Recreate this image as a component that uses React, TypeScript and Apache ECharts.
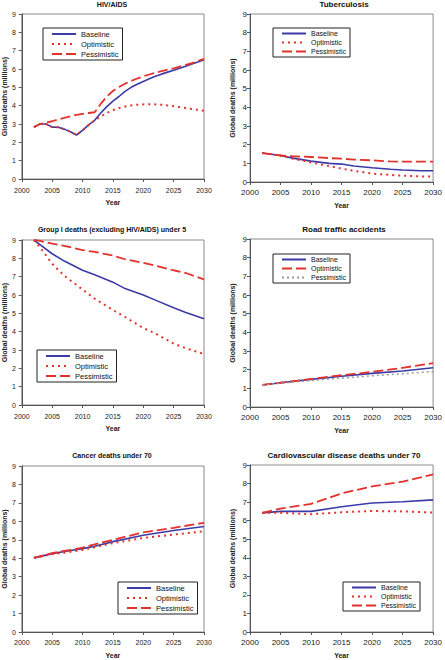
import React, { useEffect, useRef } from "react";
import * as echarts from "echarts";

// ---------- DATA ----------
const hivYears = [2002, 2003, 2004, 2005, 2006, 2007, 2008, 2009, 2010, 2011, 2012, 2013, 2014, 2015, 2016, 2017, 2018, 2019, 2020, 2021, 2022, 2023, 2024, 2025, 2026, 2027, 2028, 2029, 2030];
const hivBaseline = [2.83, 3.0, 3.0, 2.83, 2.82, 2.72, 2.58, 2.4, 2.65, 2.95, 3.2, 3.6, 3.95, 4.25, 4.5, 4.78, 5.0, 5.17, 5.32, 5.47, 5.6, 5.72, 5.83, 5.93, 6.04, 6.15, 6.27, 6.38, 6.5];
const hivOptimistic = [2.83, 3.0, 3.0, 2.83, 2.82, 2.72, 2.58, 2.4, 2.65, 2.95, 3.2, 3.42, 3.6, 3.75, 3.87, 3.95, 4.01, 4.05, 4.07, 4.08, 4.07, 4.05, 4.01, 3.97, 3.92, 3.87, 3.82, 3.77, 3.72];
const hivPessimistic = [2.83, 3.0, 3.08, 3.15, 3.25, 3.33, 3.42, 3.5, 3.55, 3.6, 3.64, 4.1, 4.5, 4.8, 5.02, 5.2, 5.35, 5.48, 5.6, 5.7, 5.8, 5.88, 5.96, 6.04, 6.13, 6.22, 6.32, 6.43, 6.55];

const tbYears = [2002, 2005, 2007, 2010, 2013, 2015, 2017, 2020, 2023, 2025, 2028, 2030];
const tbBaseline = [1.55, 1.42, 1.28, 1.12, 1.0, 0.96, 0.86, 0.76, 0.68, 0.64, 0.6, 0.6];
const tbOptimistic = [1.55, 1.42, 1.25, 1.05, 0.85, 0.72, 0.6, 0.45, 0.38, 0.34, 0.3, 0.3];
const tbPessimistic = [1.55, 1.42, 1.38, 1.34, 1.28, 1.25, 1.2, 1.16, 1.1, 1.09, 1.09, 1.09];

const g1Years = [2002, 2003, 2005, 2007, 2010, 2012, 2015, 2017, 2020, 2022, 2025, 2027, 2030];
const g1Baseline = [9.0, 8.75, 8.25, 7.85, 7.35, 7.1, 6.7, 6.35, 6.0, 5.72, 5.3, 5.05, 4.7];
const g1Optimistic = [9.0, 8.6, 7.7, 7.05, 6.3, 5.8, 5.18, 4.8, 4.2, 3.9, 3.35, 3.1, 2.78];
const g1Pessimistic = [9.0, 8.95, 8.8, 8.68, 8.45, 8.35, 8.15, 7.95, 7.75, 7.6, 7.35, 7.2, 6.85];

const rdYears = [2002, 2005, 2010, 2015, 2020, 2025, 2030];
const rdBaseline = [1.18, 1.3, 1.48, 1.65, 1.8, 1.93, 2.1];
const rdOptimistic = [1.18, 1.3, 1.5, 1.7, 1.88, 2.1, 2.35];
const rdPessimistic = [1.18, 1.27, 1.42, 1.55, 1.67, 1.78, 1.9];

const caYears = [2002, 2005, 2008, 2010, 2012, 2015, 2020, 2025, 2030];
const caBaseline = [4.02, 4.25, 4.42, 4.52, 4.65, 4.9, 5.25, 5.5, 5.72];
const caOptimistic = [4.02, 4.22, 4.35, 4.45, 4.6, 4.82, 5.1, 5.28, 5.46];
const caPessimistic = [4.02, 4.28, 4.45, 4.58, 4.75, 5.0, 5.4, 5.65, 5.92];

const cvYears = [2002, 2005, 2010, 2015, 2020, 2025, 2030];
const cvBaseline = [6.42, 6.5, 6.5, 6.75, 6.95, 7.02, 7.12];
const cvOptimistic = [6.42, 6.42, 6.35, 6.45, 6.52, 6.5, 6.44];
const cvPessimistic = [6.42, 6.65, 6.9, 7.47, 7.85, 8.1, 8.5];

const titles = [
  "HIV/AIDS",
  "Tuberculosis",
  "Group I deaths (excluding HIV/AIDS) under 5",
  "Road traffic accidents",
  "Cancer deaths under 70",
  "Cardiovascular disease deaths under 70",
];
const scenarioNames = ["Baseline", "Optimistic", "Pessimistic"];
const xAxisName = "Year";
const yAxisName = "Global deaths (millions)";

// ---------- LAYOUT / STYLE ----------
const FONT = "'Liberation Sans', Arial, Helvetica, sans-serif";
const BLUE = "#3b3ba8";
const RED = "#e3322b";
const GRAY = "#9a9a9a";

const styleBase = { color: BLUE, width: 1.6, type: "solid" as any };
const styleDot = { color: RED, width: 2, type: [2, 4] as any };
const styleDash = { color: RED, width: 1.8, type: [10, 4] as any };
const styleGrayDot = { color: GRAY, width: 1.5, type: [2, 3] as any };

const layouts = [
  { grid: { left: 21, top: 14, width: 183, height: 165 }, legend: { left: 43, top: 28 }, title: { x: 112, y: 4 }, fs: 7, yGap: 13, xMargin: 8, yMargin: 6, legendFs: 7.5 },
  { grid: { left: 250, top: 14, width: 186, height: 168 }, legend: { left: 273, top: 28 }, title: { x: 344, y: 4 }, fs: 8, yGap: 14, xMargin: 6, yMargin: 3, legendFs: 7 },
  { grid: { left: 21, top: 240, width: 183, height: 165 }, legend: { left: 37, top: 350 }, title: { x: 112, y: 229 }, fs: 7, yGap: 13, xMargin: 8, yMargin: 6, legendFs: 7.5 },
  { grid: { left: 250, top: 239, width: 186, height: 168 }, legend: { left: 273, top: 254 }, title: { x: 344, y: 229 }, fs: 8, yGap: 14, xMargin: 6, yMargin: 3, legendFs: 7 },
  { grid: { left: 21, top: 466, width: 183, height: 166 }, legend: { left: 118, top: 582 }, title: { x: 112, y: 455 }, fs: 7, yGap: 13, xMargin: 7, yMargin: 6, legendFs: 7.5 },
  { grid: { left: 250, top: 465, width: 186, height: 168 }, legend: { left: 343, top: 582 }, title: { x: 344, y: 455 }, fs: 8, yGap: 14, xMargin: 6, yMargin: 3, legendFs: 7 },
];

const panels = [
  { years: hivYears, values: [hivBaseline, hivOptimistic, hivPessimistic], styles: [styleBase, styleDot, styleDash] },
  { years: tbYears, values: [tbBaseline, tbOptimistic, tbPessimistic], styles: [styleBase, styleDot, styleDash] },
  { years: g1Years, values: [g1Baseline, g1Optimistic, g1Pessimistic], styles: [styleBase, styleDot, styleDash] },
  { years: rdYears, values: [rdBaseline, rdOptimistic, rdPessimistic], styles: [styleBase, styleDash, styleGrayDot] },
  { years: caYears, values: [caBaseline, caOptimistic, caPessimistic], styles: [styleBase, styleDot, styleDash] },
  { years: cvYears, values: [cvBaseline, cvOptimistic, cvPessimistic], styles: [styleBase, styleDot, styleDash] },
];

function buildOption() {
  const grid: any[] = [];
  const xAxis: any[] = [];
  const yAxis: any[] = [];
  const series: any[] = [];
  const legend: any[] = [];
  const graphic: any[] = [];

  panels.forEach((p, i) => {
    const L = layouts[i];
    grid.push({ ...L.grid, show: true, borderColor: "#8a8a8a", borderWidth: 1, backgroundColor: "transparent", containLabel: false });
    xAxis.push({
      type: "value",
      gridIndex: i,
      min: 2000,
      max: 2030,
      interval: 5,
      name: xAxisName,
      nameLocation: "middle",
      nameGap: 20,
      nameTextStyle: { fontSize: 7, fontWeight: "bold", color: "#222", fontFamily: FONT },
      axisLine: { show: true, lineStyle: { color: "#555", width: 1 } },
      axisTick: { show: true, inside: false, length: 3, lineStyle: { color: "#555" } },
      axisLabel: { fontSize: L.fs, color: "#222", fontFamily: FONT, margin: L.xMargin, showMinLabel: true, showMaxLabel: true, formatter: (v: number) => String(v) },
      splitLine: { show: false },
    });
    yAxis.push({
      type: "value",
      gridIndex: i,
      min: 0,
      max: 9,
      interval: 1,
      name: yAxisName,
      nameLocation: "middle",
      nameGap: L.yGap,
      nameTextStyle: { fontSize: 7, fontWeight: "bold", color: "#222", fontFamily: FONT },
      axisLine: { show: true, lineStyle: { color: "#555", width: 1 } },
      axisTick: { show: true, inside: false, length: 3, lineStyle: { color: "#555" } },
      axisLabel: { fontSize: L.fs, color: "#222", fontFamily: FONT, margin: L.yMargin },
      splitLine: { show: false },
    });
    const names: string[] = [];
    scenarioNames.forEach((sn, k) => {
      const nm = `p${i}|${sn}`;
      names.push(nm);
      series.push({
        type: "line",
        name: nm,
        xAxisIndex: i,
        yAxisIndex: i,
        symbol: "none",
        smooth: false,
        lineStyle: { ...p.styles[k] },
        itemStyle: { color: p.styles[k].color, opacity: 0 },
        data: p.years.map((yr, j) => [yr, p.values[k][j]]),
        z: 2 + k,
      });
    });
    legend.push({
      orient: "vertical",
      left: L.legend.left,
      top: L.legend.top,
      data: names,
      formatter: (n: string) => n.split("|")[1],
      itemWidth: 24,
      itemHeight: 8,
      itemGap: 2,
      padding: [2, 4, 2, 8],
      borderColor: "#222",
      borderWidth: 1,
      borderRadius: 0,
      backgroundColor: "#fff",
      selectedMode: false,
      itemStyle: { opacity: 0 },
      textStyle: { fontSize: L.legendFs, color: "#111", fontFamily: FONT },
    });
    graphic.push({
      type: "text",
      x: L.title.x,
      y: L.title.y,
      style: {
        text: titles[i],
        align: "center",
        verticalAlign: "middle",
        fontSize: L.fs,
        fontWeight: "bold",
        fontFamily: FONT,
        fill: "#111",
      },
    });
  });

  return { animation: false, backgroundColor: "#fff", grid, xAxis, yAxis, series, legend, graphic };
}

export default function App() {
  const ref = useRef<HTMLDivElement>(null);
  useEffect(() => {
    if (!ref.current) return;
    const chart = echarts.init(ref.current, undefined, { renderer: "svg" });
    chart.setOption(buildOption() as any);
    return () => chart.dispose();
  }, []);
  return <div ref={ref} style={{ position: "absolute", left: 0, top: 0, width: 445, height: 660 }} />;
}
